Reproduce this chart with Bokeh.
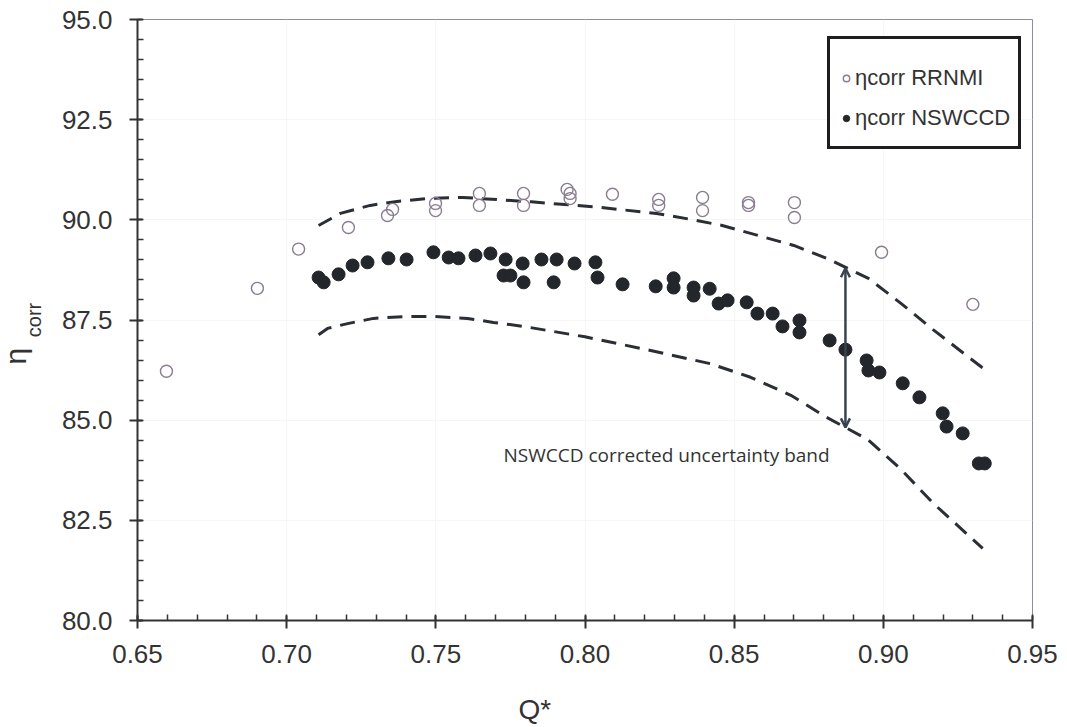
import numpy as np
from bokeh.plotting import figure
from bokeh.models import (FixedTicker, NumeralTickFormatter, Label, Arrow, OpenHead,
                          Legend, LegendItem, Title)
from bokeh.embed import file_html
from bokeh.resources import INLINE

# ---- data -------------------------------------------------------------
rrnmi_q = [0.6597, 0.6902, 0.7040, 0.7207, 0.7338, 0.7355, 0.7499, 0.7499,
           0.7646, 0.7646, 0.7794, 0.7794, 0.7940, 0.7950, 0.7950, 0.8092,
           0.8247, 0.8247, 0.8394, 0.8394, 0.8548, 0.8548, 0.8702, 0.8702,
           0.8994, 0.9300]
rrnmi_eta = [86.22, 88.29, 89.27, 89.81, 90.11, 90.26, 90.23, 90.41,
             90.66, 90.36, 90.66, 90.36, 90.76, 90.66, 90.53, 90.64,
             90.51, 90.36, 90.56, 90.23, 90.43, 90.36, 90.43, 90.06,
             89.19, 87.89]

nswccd_q = [0.7107, 0.7124, 0.7174, 0.7221, 0.7271, 0.7341, 0.7402, 0.7492,
            0.7543, 0.7576, 0.7633, 0.7683, 0.7734, 0.7791, 0.7854, 0.7905,
            0.7965, 0.8035, 0.7727, 0.7750, 0.7794, 0.7895, 0.8042, 0.8126,
            0.8237, 0.8297, 0.8297, 0.8364, 0.8364, 0.8418, 0.8448, 0.8478,
            0.8542, 0.8578, 0.8629, 0.8662, 0.8719, 0.8719, 0.8820, 0.8873,
            0.8944, 0.8950, 0.8987, 0.9065, 0.9121, 0.9199, 0.9212, 0.9266,
            0.9320, 0.9340]
nswccd_eta = [88.56, 88.44, 88.64, 88.86, 88.94, 89.04, 89.01, 89.19,
              89.06, 89.04, 89.11, 89.16, 89.01, 88.91, 89.01, 89.01,
              88.91, 88.94, 88.61, 88.61, 88.44, 88.44, 88.56, 88.39,
              88.34, 88.54, 88.31, 88.31, 88.11, 88.28, 87.91, 87.99,
              87.94, 87.66, 87.66, 87.34, 87.49, 87.19, 86.99, 86.76,
              86.49, 86.24, 86.19, 85.92, 85.57, 85.17, 84.84, 84.67,
              83.92, 83.92]

upper_q = [0.7107, 0.7180, 0.7280, 0.7370, 0.7470, 0.7590, 0.7820, 0.8050,
           0.8240, 0.8340, 0.8460, 0.8580, 0.8700, 0.8810, 0.8950, 0.9060,
           0.9170, 0.9330, 0.9350]
upper_eta = [89.86, 90.16, 90.36, 90.46, 90.53, 90.56, 90.45, 90.31,
             90.16, 90.03, 89.86, 89.61, 89.36, 89.04, 88.54, 87.91,
             87.24, 86.32, 86.22]

lower_q = [0.7107, 0.7137, 0.7204, 0.7291, 0.7405, 0.7490, 0.7606, 0.7693,
           0.7794, 0.8000, 0.8220, 0.8420, 0.8555, 0.8690, 0.8810, 0.8947,
           0.9058, 0.9168, 0.9333]
lower_eta = [87.13, 87.29, 87.41, 87.54, 87.59, 87.59, 87.54, 87.44,
             87.34, 87.08, 86.74, 86.41, 86.07, 85.62, 85.07, 84.52,
             83.78, 82.92, 81.80]

arrow_q = 0.8873
arrow_top = 88.79
arrow_bottom = 84.82
band_label = "NSWCCD corrected uncertainty band"

x_ticks = [0.65, 0.70, 0.75, 0.80, 0.85, 0.90, 0.95]
y_ticks = [80.0, 82.5, 85.0, 87.5, 90.0, 92.5, 95.0]
x_minor = [round(v, 2) for v in np.arange(0.65, 0.9501, 0.01)]
y_minor = [round(v, 1) for v in np.arange(80.0, 95.01, 0.5)]

legend_labels = ["\u03b7corr RRNMI", "\u03b7corr NSWCCD"]
x_title = "Q*"
y_title_main = "\u03b7"
y_title_sub = "corr"

# ---- figure -----------------------------------------------------------
p = figure(width=1067, height=727, x_range=(0.65, 0.95), y_range=(80, 95),
           output_backend="svg", toolbar_location=None,
           min_border_left=137, min_border_right=35, min_border_top=19,
           min_border_bottom=107)
p.background_fill_color = "white"
p.border_fill_color = "white"
p.outline_line_color = "#8c8c9c"
p.outline_line_width = 1

p.xaxis.ticker = FixedTicker(ticks=x_ticks, minor_ticks=x_minor)
p.yaxis.ticker = FixedTicker(ticks=y_ticks, minor_ticks=y_minor)
p.xaxis.formatter = NumeralTickFormatter(format="0.00")
p.yaxis.formatter = NumeralTickFormatter(format="0.0")

for ax in (p.xaxis[0], p.yaxis[0]):
    ax.axis_line_width = 2
    ax.axis_line_color = "#333333"
    ax.major_tick_line_width = 2
    ax.major_tick_line_color = "#333333"
    ax.minor_tick_line_width = 1.5
    ax.minor_tick_line_color = "#333333"
    ax.major_tick_in = 5
    ax.major_tick_out = 8
    ax.minor_tick_in = 6
    ax.minor_tick_out = 0
    ax.major_label_text_font = "Liberation Sans"
    ax.major_label_text_font_size = "26px"
    ax.major_label_text_color = "#333333"
p.yaxis.major_label_standoff = 17
p.xaxis.major_label_standoff = 16

# y title: subscript part as the axis label, main symbol as an outer title
p.yaxis.axis_label = y_title_sub
p.yaxis.axis_label_orientation = "parallel"
p.yaxis.axis_label_text_font = "Liberation Sans"
p.yaxis.axis_label_text_font_size = "20px"
p.yaxis.axis_label_text_font_style = "normal"
p.yaxis.axis_label_text_color = "#333333"
p.yaxis.axis_label_standoff = 14

p.add_layout(Title(text=y_title_main, text_font="Liberation Sans",
                   text_font_size="30px", text_font_style="normal",
                   text_color="#333333", align="left", offset=256,
                   vertical_align="bottom", standoff=-24), "left")

# spacer between x tick labels and the x title
p.xaxis.axis_label = "\u00a0"
p.xaxis.axis_label_text_font_size = "10px"
p.xaxis.axis_label_standoff = 12
p.add_layout(Title(text=x_title, text_font="Liberation Sans",
                   text_font_size="28px", text_font_style="normal",
                   text_color="#333333", align="left", offset=381,
                   standoff=0), "below")

p.xgrid.ticker = FixedTicker(ticks=x_ticks)
p.ygrid.ticker = FixedTicker(ticks=y_ticks)
p.xgrid.grid_line_color = "#f6f6f6"
p.ygrid.grid_line_color = "#f6f6f6"

dash_color = "#2a2e35"
p.line(upper_q, upper_eta, line_color=dash_color, line_width=3, line_dash="15 9")
p.line(lower_q, lower_eta, line_color=dash_color, line_width=3, line_dash="15 9")

r_fill = p.scatter(nswccd_q, nswccd_eta, marker="circle", size=13,
                   fill_color="#23262a", line_color="#23262a")
r_open = p.scatter(rrnmi_q, rrnmi_eta, marker="circle", size=12,
                   fill_color=None, line_color="#8a7c91", line_width=1.4)

arrow_color = "#3a4350"
p.add_layout(Arrow(start=OpenHead(size=9, line_width=2.5, line_color=arrow_color),
                   end=OpenHead(size=9, line_width=2.5, line_color=arrow_color),
                   x_start=arrow_q, y_start=arrow_bottom,
                   x_end=arrow_q, y_end=arrow_top,
                   line_width=2.5, line_color=arrow_color))

p.add_layout(Label(x=0.7727, y=84.12, text=band_label, text_font="Open Sans",
                   text_font_size="19px", text_color="#333333",
                   text_align="left", text_baseline="alphabetic"))

legend = Legend(items=[LegendItem(label=legend_labels[0], renderers=[r_open]),
                       LegendItem(label=legend_labels[1], renderers=[r_fill])],
                location=(690, 471))
legend.title = " "
legend.title_text_font_size = "10px"
legend.title_standoff = 0
legend.label_text_font = "Liberation Sans"
legend.label_text_font_size = "22px"
legend.label_text_color = "#333333"
legend.border_line_color = "#1e1e1e"
legend.border_line_alpha = 1.0
legend.border_line_width = 3
legend.background_fill_color = "white"
legend.background_fill_alpha = 1
legend.padding = 8
legend.spacing = 0
legend.margin = 0
legend.glyph_width = 16
legend.glyph_height = 40
legend.label_height = 40
legend.label_standoff = 1
p.add_layout(legend)

open("out.html", "w").write(file_html(p, INLINE))
